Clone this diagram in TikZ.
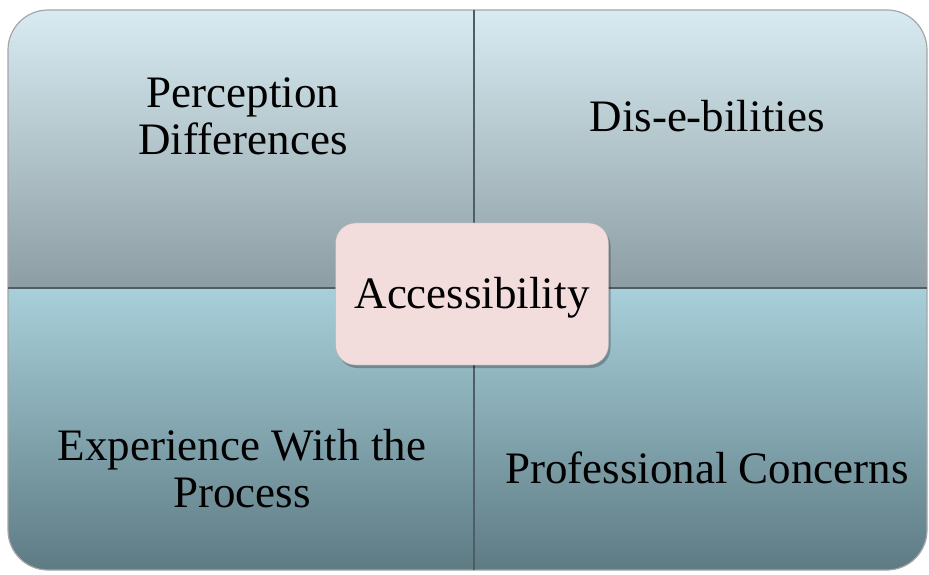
\documentclass[tikz,border=0pt]{standalone}
\usepackage{fontspec}
\setmainfont{Liberation Serif}
\usetikzlibrary{shadows}

\definecolor{uppertop}{HTML}{D8EBF2}
\definecolor{upperbottom}{HTML}{8C9EA3}
\definecolor{lowertop}{HTML}{A8D0DA}
\definecolor{lowerbottom}{HTML}{5E7B84}
\definecolor{hubfill}{HTML}{F2DCDC}
\definecolor{divline}{HTML}{4E5E64}

\tikzset{
	quadtext/.style={font=\fontsize{45}{47}\selectfont, align=center, anchor=base, inner sep=0pt},
	hubbox/.style={draw=gray!60, fill=hubfill, rounded corners=20, minimum width=273, minimum height=142,
		text height=32, text depth=4, font=\fontsize{45}{47}\selectfont,
		drop shadow={shadow xshift=2pt, shadow yshift=-3pt, opacity=.25, fill=black}}
}

\begin{document}
\begin{tikzpicture}[x=1pt, y=1pt]
	\useasboundingbox (0,0) rectangle (929,574);

	% the four quadrants
	\begin{scope}
		\clip[rounded corners=40] (8,4) rectangle (927,564);
		\shade[top color=uppertop, bottom color=upperbottom] (8,286) rectangle (474,564);
		\shade[top color=uppertop, bottom color=upperbottom] (474,286) rectangle (927,564);
		\shade[top color=lowertop, bottom color=lowerbottom] (8,4) rectangle (474,286);
		\shade[top color=lowertop, bottom color=lowerbottom] (474,4) rectangle (927,286);
	\end{scope}
	\draw[gray!70, line width=1.2pt, rounded corners=40] (8,4) rectangle (927,564);
	\draw[divline, line width=1.2pt] (474,4) -- (474,564);
	\draw[divline, line width=1.2pt] (8,286) -- (927,286);

	% base anchor sits on the last line
	\node[quadtext] (perception) at (243,419) {Perception\\Differences};
	\node[quadtext] (disabilities) at (707,442) {Dis-e-bilities};
	\node[quadtext] (experience) at (242,67) {Experience With the\\Process};
	\node[quadtext] (professional) at (707,91) {Professional Concerns};

	\node[hubbox] (access) at (472,280) {Accessibility};

\end{tikzpicture}
\end{document}
